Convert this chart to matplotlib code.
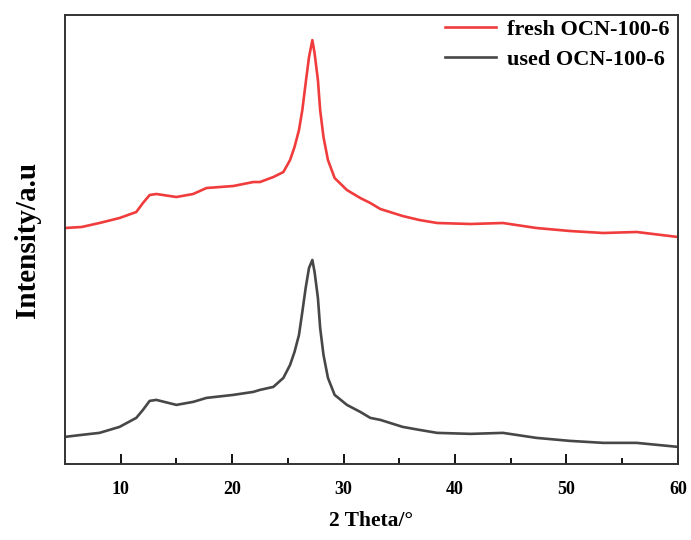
import matplotlib.pyplot as plt

# 2 theta positions (deg) and intensities (arbitrary units)
two_theta = [5.0, 6.5, 8.1, 9.9, 11.4, 12.0, 12.6, 13.2, 15.0, 16.5, 17.7, 20.1,
             21.9, 22.5, 23.7, 24.6, 25.2, 25.6, 26.0, 26.3, 26.6, 26.9, 27.2,
             27.4, 27.7, 27.9, 28.2, 28.6, 29.2, 30.3, 31.5, 32.4, 33.3, 35.3,
             36.8, 38.4, 41.4, 44.3, 47.3, 50.3, 53.3, 56.3, 60.0]

fresh = [236, 237, 241, 246, 252, 261, 269, 270, 267, 270, 276, 278,
         282, 282, 287, 292, 304, 317, 334, 354, 381, 407, 424,
         411, 384, 354, 327, 304, 286, 274, 266, 261, 255, 248,
         244, 241, 240, 241, 236, 233, 231, 232, 227]

used = [27, 29, 31, 37, 46, 54, 63, 64, 59, 62, 66, 69,
        72, 74, 77, 86, 99, 112, 129, 152, 176, 196, 204,
        192, 166, 136, 109, 86, 69, 59, 52, 46, 44, 37,
        34, 31, 30, 31, 26, 23, 21, 21, 17]

plt.rcParams['font.family'] = ['Liberation Serif', 'DejaVu Serif']
plt.rcParams['font.weight'] = 'bold'

fig = plt.figure(figsize=(6.91, 5.4), dpi=100)
ax = fig.add_axes([0.094, 0.141, 0.887, 0.831])

ax.plot(two_theta, fresh, color='#f03c3c', linewidth=1.9, label='fresh OCN-100-6')
ax.plot(two_theta, used, color='#474747', linewidth=1.9, label='used OCN-100-6')

ax.set_xlim(5, 60)
ax.set_ylim(0, 449)
ax.set_xticks([10, 20, 30, 40, 50, 60])
ax.set_xticks([15, 25, 35, 45, 55], minor=True)
ax.set_yticks([])
ax.tick_params(axis='x', which='major', direction='in', length=7, width=1.3, labelsize=13, pad=12)
ax.tick_params(axis='x', which='minor', direction='in', length=4, width=1.3)
for s in ax.spines.values():
    s.set_linewidth(1.4)
    s.set_color('#333333')

ax.set_xlabel('2 Theta/\u00b0', fontsize=15.5, fontweight='bold', labelpad=10)
ax.set_ylabel('Intensity/a.u', fontsize=21, fontweight='bold', labelpad=17)

leg = ax.legend(loc='upper right', bbox_to_anchor=(1.005, 1.015), frameon=False,
                fontsize=16, handlelength=2.3, handletextpad=0.5, labelspacing=0.42,
                borderaxespad=0.1)
for t in leg.get_texts():
    t.set_fontweight('bold')

fig.savefig('out.png', dpi=100)
